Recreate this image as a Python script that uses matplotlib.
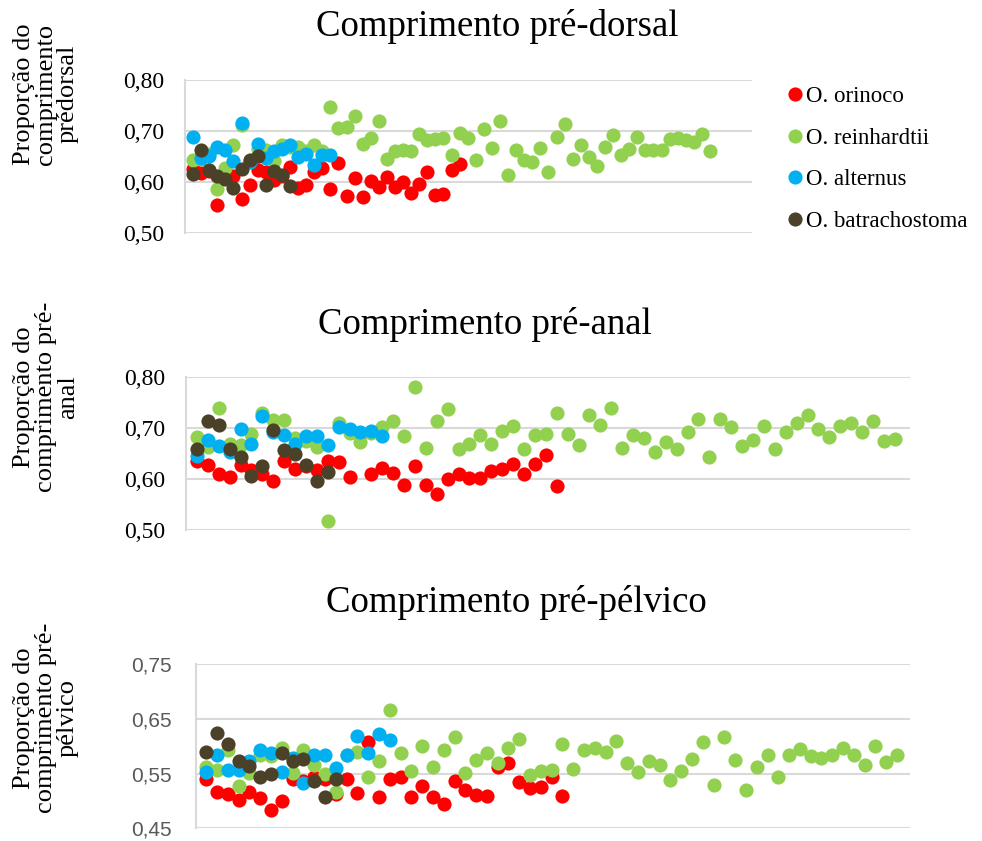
import matplotlib
matplotlib.use('Agg')
import matplotlib.pyplot as plt
from matplotlib.lines import Line2D

# species labels and colours
species = ['O. orinoco', 'O. reinhardtii', 'O. alternus', 'O. batrachostoma']
colors = ['#FF0000', '#92D050', '#00B0F0', '#4A4128']

# pre-dorsal
red_d = [0.626, 0.618, 0.622, 0.554, 0.610, 0.612, 0.567, 0.593, 0.623, 0.620, 0.603, 0.612,
         0.629, 0.587, 0.593, 0.620, 0.628, 0.585, 0.637, 0.573, 0.608, 0.571, 0.602, 0.589,
         0.610, 0.589, 0.600, 0.578, 0.595, 0.619, 0.575, 0.577, 0.624, 0.635]
green_d = [0.642, 0.645, 0.655, 0.586, 0.628, 0.672, 0.711, 0.640, 0.665, 0.662, 0.640, 0.672,
           0.668, 0.669, 0.660, 0.672, 0.660, 0.747, 0.706, 0.708, 0.729, 0.675, 0.687, 0.719,
           0.644, 0.660, 0.662, 0.661, 0.693, 0.682, 0.684, 0.687, 0.652, 0.696, 0.687, 0.642,
           0.703, 0.667, 0.719, 0.614, 0.662, 0.642, 0.638, 0.667, 0.620, 0.688, 0.714, 0.644,
           0.673, 0.649, 0.631, 0.669, 0.692, 0.652, 0.665, 0.688, 0.663, 0.662, 0.663, 0.684,
           0.686, 0.682, 0.678, 0.693, 0.661]
blue_d = [0.688, 0.646, 0.650, 0.669, 0.663, 0.641, 0.716, 0.638, 0.674, 0.646, 0.660, 0.665,
          0.673, 0.649, 0.654, 0.633, 0.652, 0.652]
dark_d = [0.615, 0.662, 0.624, 0.611, 0.605, 0.587, 0.626, 0.642, 0.650, 0.593, 0.621, 0.613, 0.591]

# pre-anal
red_a = [0.635, 0.627, 0.610, 0.603, 0.627, 0.618, 0.610, 0.596, 0.635, 0.619, 0.625, 0.617,
         0.635, 0.633, 0.604, 0.688, 0.609, 0.620, 0.612, 0.588, 0.624, 0.588, 0.570, 0.599,
         0.610, 0.601, 0.601, 0.615, 0.619, 0.629, 0.610, 0.628, 0.646, 0.586]
green_a = [0.682, 0.663, 0.738, 0.668, 0.666, 0.687, 0.728, 0.715, 0.715, 0.679, 0.673, 0.663,
           0.518, 0.710, 0.689, 0.671, 0.689, 0.702, 0.713, 0.684, 0.779, 0.661, 0.714, 0.737,
           0.658, 0.669, 0.686, 0.669, 0.693, 0.703, 0.658, 0.686, 0.687, 0.728, 0.687, 0.667,
           0.724, 0.705, 0.739, 0.661, 0.686, 0.679, 0.653, 0.671, 0.658, 0.691, 0.717, 0.642,
           0.717, 0.702, 0.664, 0.675, 0.703, 0.658, 0.691, 0.710, 0.724, 0.697, 0.682, 0.703,
           0.710, 0.691, 0.714, 0.674, 0.677]
blue_a = [0.644, 0.676, 0.665, 0.653, 0.697, 0.668, 0.722, 0.692, 0.686, 0.668, 0.684, 0.684,
          0.666, 0.701, 0.697, 0.692, 0.693, 0.684]
dark_a = [0.658, 0.714, 0.705, 0.659, 0.642, 0.606, 0.624, 0.695, 0.656, 0.648, 0.627, 0.595, 0.614]

# pre-pelvic
red_p = [0.541, 0.516, 0.513, 0.501, 0.516, 0.506, 0.484, 0.500, 0.540, 0.537, 0.543, 0.540,
         0.512, 0.540, 0.514, 0.607, 0.508, 0.541, 0.544, 0.508, 0.527, 0.508, 0.495, 0.537,
         0.520, 0.510, 0.509, 0.563, 0.569, 0.534, 0.524, 0.526, 0.543, 0.509]
green_p = [0.563, 0.557, 0.593, 0.527, 0.552, 0.585, 0.582, 0.596, 0.551, 0.593, 0.565, 0.549,
           0.516, 0.584, 0.590, 0.544, 0.573, 0.666, 0.587, 0.555, 0.601, 0.562, 0.593, 0.617,
           0.552, 0.575, 0.587, 0.570, 0.596, 0.614, 0.547, 0.555, 0.557, 0.604, 0.559, 0.593,
           0.596, 0.590, 0.610, 0.570, 0.553, 0.573, 0.565, 0.538, 0.554, 0.576, 0.607, 0.530,
           0.617, 0.575, 0.520, 0.563, 0.584, 0.544, 0.585, 0.595, 0.582, 0.578, 0.585, 0.596,
           0.585, 0.565, 0.601, 0.571, 0.585]
blue_p = [0.553, 0.585, 0.557, 0.557, 0.573, 0.594, 0.588, 0.553, 0.579, 0.532, 0.585, 0.585,
          0.561, 0.584, 0.618, 0.587, 0.622, 0.612]
dark_p = [0.590, 0.625, 0.604, 0.573, 0.564, 0.544, 0.550, 0.587, 0.573, 0.576, 0.537, 0.507, 0.540]

serif = 'Liberation Serif'
W, H = 982, 841
fig = plt.figure(figsize=(W / 100, H / 100), dpi=100)

def px_axes(l, r, t, b):
    return fig.add_axes([l / W, 1 - b / H, (r - l) / W, (b - t) / H])

def draw(ax, groups, yticks, xmax, tickfont, tickcolor, tsize, tpad):
    for vals, c in zip(groups, colors):
        xs = range(1, len(vals) + 1)
        ax.plot(xs, vals, 'o', color=c, markersize=10.2, markeredgewidth=0, zorder=3)
    ax.set_xlim(0, xmax)
    ax.set_ylim(yticks[0], yticks[-1])
    ax.set_yticks(yticks)
    ax.set_yticklabels([('%.2f' % v).replace('.', ',') for v in yticks],
                       fontfamily=tickfont, color=tickcolor)
    ax.tick_params(axis='y', length=0, pad=tpad, labelsize=tsize)
    ax.set_xticks([])
    ax.grid(axis='y', color='#D9D9D9', linewidth=1.5)
    ax.set_axisbelow(True)
    for s in ['top', 'right', 'bottom']:
        ax.spines[s].set_visible(False)
    ax.spines['left'].set_color('#D9D9D9')
    ax.spines['left'].set_linewidth(1.5)

ax1 = px_axes(185, 752, 80, 232.7)
draw(ax1, [red_d, green_d, blue_d, dark_d], [0.50, 0.60, 0.70, 0.80], 70.2, serif, 'black', 17, 15)
ax2 = px_axes(186, 910, 376.7, 529.7)
draw(ax2, [red_a, green_a, blue_a, dark_a], [0.50, 0.60, 0.70, 0.80], 66.4, serif, 'black', 17, 15)
ax3 = px_axes(195.5, 910, 664.3, 828.3)
draw(ax3, [red_p, green_p, blue_p, dark_p], [0.45, 0.55, 0.65, 0.75], 66.2, 'Liberation Sans', '#595959', 15, 17)

# titles
fig.text(497 / W, 1 - 27 / H, 'Comprimento pré-dorsal', ha='center', va='center', fontfamily=serif, fontsize=26.5)
fig.text(485 / W, 1 - 325 / H, 'Comprimento pré-anal', ha='center', va='center', fontfamily=serif, fontsize=26.5)
fig.text(516 / W, 1 - 603 / H, 'Comprimento pré-pélvico', ha='center', va='center', fontfamily=serif, fontsize=26.5)

# y labels
ylab = dict(rotation=90, ha='center', va='center', fontfamily=serif, fontsize=19,
            linespacing=0.98, multialignment='center')
fig.text(46 / W, 1 - 94 / H, 'Proporção do\ncomprimento\nprédorsal', **ylab)
fig.text(46 / W, 1 - 397 / H, 'Proporção do\ncomprimento pré-\nanal', **ylab)
fig.text(46 / W, 1 - 718 / H, 'Proporção do\ncomprimento pré-\npélvico', **ylab)

handles = [Line2D([], [], marker='o', linestyle='none', color=c, markersize=10.2, markeredgewidth=0) for c in colors]
fig.legend(handles, species, loc='upper left', bbox_to_anchor=(767 / W, 1 - 65 / H), frameon=False,
           prop={'family': serif, 'size': 16.5}, handlelength=0.6, handletextpad=0.2, labelspacing=0.91)

fig.savefig('out.png', dpi=100)
